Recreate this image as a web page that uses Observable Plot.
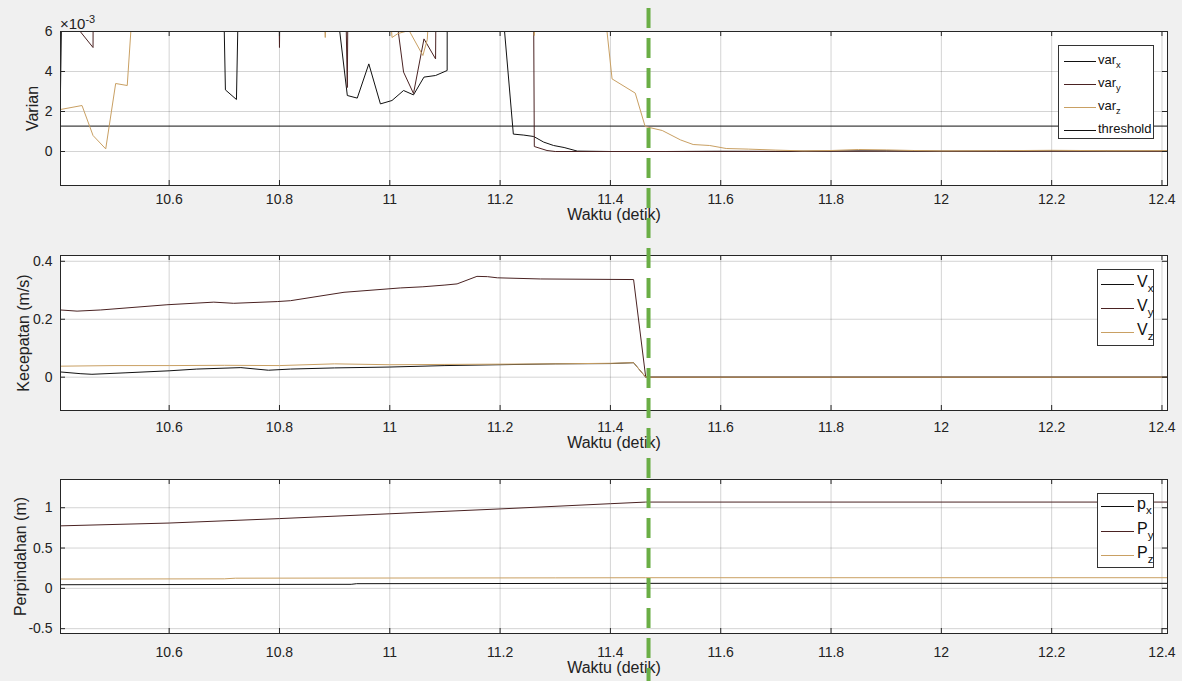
<!DOCTYPE html>
<html><head><meta charset="utf-8">
<script src="https://cdn.jsdelivr.net/npm/d3@7"></script>
<script src="https://cdn.jsdelivr.net/npm/@observablehq/plot@0.6"></script>
<style>
body{margin:0;background:#f0f0f0;font-family:"Liberation Sans",Arial,sans-serif;}
#fig{position:relative;width:1182px;height:681px;overflow:hidden;background:#f0f0f0;}
.panel{position:absolute;left:0;}
.legend{position:absolute;background:#fff;border:1px solid #333;box-sizing:border-box;}
.lline{position:absolute;height:0;border-top:1px solid #000;}
.ltext{position:absolute;white-space:nowrap;color:#111;line-height:1;font-family:"Liberation Sans",Arial,sans-serif;}
.ltext sub{font-size:0.72em;vertical-align:-0.45em;line-height:0;}
.expo{position:absolute;left:60px;top:14px;font-size:15px;color:#222;font-family:"Liberation Sans",Arial,sans-serif;line-height:1;}
.expo sup{font-size:11px;vertical-align:6px;}
</style></head>
<body><div id="fig"></div>
<script>
// ---------- data ----------
const xTicks = [10.6, 10.8, 11, 11.2, 11.4, 11.6, 11.8, 12, 12.2, 12.4];
const xDomain = [10.403, 12.41];
const markerTime = 11.47;
const xLabel = "Waktu (detik)";

// Variance (units of 1e-3); values above 6 leave the visible window
const varX = [[10.403,3.05],[10.412,20],[10.69,20],[10.702,3.08],[10.722,2.6],[10.734,20],
  [10.893,20],[10.905,7.0],[10.923,2.8],[10.941,2.67],[10.962,4.38],[10.983,2.38],[11.004,2.55],
  [11.025,3.05],[11.043,2.83],[11.062,3.72],[11.083,3.8],[11.104,4.05],[11.105,30],[11.19,30],
  [11.205,7.0],[11.224,0.87],[11.243,0.82],[11.261,0.75],[11.279,0.47],[11.297,0.3],[11.316,0.2],
  [11.34,0.02],[11.4,0.0],[11.5,0.0],[11.6,0.01],[11.7,0.0],[11.8,0.02],[11.9,0.03],[12.0,0.01],
  [12.1,0.02],[12.2,0.03],[12.3,0.02],[12.41,0.02]];
const varY = [[10.403,12],[10.433,6.2],[10.462,5.2],[10.465,30],[10.79,30],[10.8,5.2],[10.81,30],
  [10.905,30],[10.923,3.2],[10.93,30],[10.99,30],[11.004,8.4],[11.025,3.97],[11.043,2.9],
  [11.062,5.63],[11.083,4.63],[11.09,30],[11.255,40],[11.262,0.25],[11.285,0.05],[11.3,0.0],
  [11.5,0.0],[11.7,0.01],[11.9,0.02],[12.1,0.01],[12.3,0.02],[12.41,0.01]];
const varZ = [[10.403,2.1],[10.442,2.3],[10.462,0.8],[10.485,0.13],[10.503,3.4],[10.524,3.3],
  [10.545,12],[10.87,12],[10.883,5.7],[10.895,12],[10.99,12],[11.004,5.7],[11.015,5.9],
  [11.035,6.05],[11.06,4.8],[11.068,5.6],[11.08,12],[11.25,12],[11.262,5.8],[11.272,12],
  [11.37,12],[11.383,8.8],[11.403,3.63],[11.445,2.92],[11.463,1.25],[11.494,1.05],[11.527,0.58],
  [11.55,0.35],[11.58,0.3],[11.61,0.15],[11.65,0.12],[11.7,0.07],[11.75,0.03],[11.8,0.05],
  [11.85,0.1],[11.9,0.08],[11.95,0.05],[12.0,0.03],[12.1,0.04],[12.2,0.06],[12.3,0.04],[12.41,0.04]];
const threshold = 1.27;

// Velocity (m/s)
const vX = [[10.403,0.018],[10.44,0.012],[10.46,0.01],[10.52,0.015],[10.6,0.022],[10.65,0.028],
  [10.73,0.033],[10.78,0.024],[10.82,0.028],[10.9,0.032],[11.0,0.035],[11.1,0.04],[11.2,0.043],
  [11.3,0.046],[11.4,0.047],[11.442,0.05],[11.464,0.0],[12.41,0.0]];
const vY = [[10.403,0.232],[10.433,0.228],[10.476,0.232],[10.596,0.25],[10.681,0.259],[10.717,0.255],
  [10.796,0.261],[10.82,0.264],[10.917,0.293],[11.019,0.308],[11.06,0.312],[11.1,0.318],
  [11.122,0.322],[11.158,0.348],[11.177,0.347],[11.195,0.343],[11.273,0.339],[11.442,0.337],
  [11.464,0.0],[12.41,0.0]];
const vZ = [[10.403,0.038],[10.5,0.04],[10.6,0.04],[10.7,0.041],[10.8,0.04],[10.9,0.046],
  [11.0,0.043],[11.1,0.044],[11.2,0.045],[11.3,0.046],[11.4,0.048],[11.442,0.05],[11.464,0.0],[12.41,0.0]];

// Displacement (m)
const pX = [[10.403,0.045],[10.93,0.05],[10.94,0.058],[11.464,0.062],[12.41,0.062]];
const pY = [[10.403,0.775],[10.6,0.81],[10.8,0.865],[11.0,0.925],[11.2,0.985],[11.4,1.05],[11.464,1.07],[12.41,1.07]];
const pZ = [[10.403,0.115],[10.7,0.118],[10.72,0.126],[11.0,0.128],[11.3,0.13],[11.464,0.132],[12.41,0.132]];

const colX = "#111111", colY = "#4a2222", colZ = "#c9a063";

// ---------- drawing ----------
const fig = document.getElementById("fig");
const fmt = d => String(d);
const FONT = "'Liberation Sans', Arial, sans-serif";

function panel(o) {
  const W = 1182, mL = 60, mR = 15;
  const plotH = o.height - o.mt - o.mb;
  const plotW = W - mL - mR;
  const marks = [
    Plot.frame({fill: "white", stroke: null}),
    Plot.gridX(xTicks, {stroke: "#262626", strokeOpacity: 0.2}),
    Plot.gridY(o.yTicks, {stroke: "#262626", strokeOpacity: 0.2}),
    ...(o.extra || []),
    ...o.lines.map(([data, color]) => Plot.line(data, {x: d => d[0], y: d => d[1], stroke: color, strokeWidth: 1, clip: true})),
    Plot.tickX(xTicks, {x: d => d, insetTop: plotH - 5, stroke: "#262626"}),
    Plot.tickX(xTicks, {x: d => d, insetBottom: plotH - 5, stroke: "#262626"}),
    Plot.tickY(o.yTicks, {y: d => d, insetRight: plotW - 5, stroke: "#262626"}),
    Plot.tickY(o.yTicks, {y: d => d, insetLeft: plotW - 5, stroke: "#262626"}),
    Plot.axisX(xTicks, {anchor: "bottom", tickSize: 0, tickPadding: o.tickPad, tickFormat: fmt, label: null, fontSize: 14, fill: "#222"}),
    Plot.axisY(o.yTicks, {anchor: "left", tickSize: 0, tickPadding: 8, tickFormat: fmt, label: null, fontSize: 14, fill: "#222"}),
    Plot.text([xLabel], {frameAnchor: "bottom", lineAnchor: "middle", textAnchor: "middle", dy: o.labelDy, fontSize: 16, fill: "#222"}),
    Plot.text([o.ylabel], {frameAnchor: "left", textAnchor: "middle", lineAnchor: "middle", rotate: -90, dx: o.ylabelDx, fontSize: 16, fill: "#222"}),
    Plot.frame({stroke: "#262626", strokeWidth: 1})
  ];
  const p = Plot.plot({
    width: W, height: o.height,
    marginLeft: mL, marginRight: mR, marginTop: o.mt, marginBottom: o.mb,
    style: {background: "transparent", fontFamily: FONT, fontSize: "14px", overflow: "visible"},
    x: {domain: xDomain},
    y: {domain: o.yDomain},
    marks
  });
  const wrap = document.createElement("div");
  wrap.className = "panel";
  wrap.style.top = o.top + "px";
  wrap.appendChild(p);
  fig.appendChild(wrap);
  return p;
}

const p1 = panel({top: 0, height: 228, mt: 31, mb: 43, yDomain: [-1.7, 6], yTicks: [0, 2, 4, 6],
  lines: [[varX, colX], [varY, colY], [varZ, colZ]],
  extra: [Plot.ruleY([threshold], {stroke: "#111", strokeWidth: 1})],
  ylabel: "Varian", ylabelDx: -28, tickPad: 9, labelDy: 29});
const p2 = panel({top: 228, height: 227, mt: 27, mb: 45, yDomain: [-0.115, 0.42], yTicks: [0, 0.2, 0.4],
  lines: [[vX, colX], [vY, colY], [vZ, colZ]],
  ylabel: "Kecepatan (m/s)", ylabelDx: -37, tickPad: 12, labelDy: 32});
const p3 = panel({top: 455, height: 226, mt: 24, mb: 48, yDomain: [-0.56, 1.35], yTicks: [-0.5, 0, 0.5, 1],
  lines: [[pX, colX], [pY, colY], [pZ, colZ]],
  ylabel: "Perpindahan (m)", ylabelDx: -40, tickPad: 14, labelDy: 34});

// exponent label
const ex = document.createElement("div");
ex.className = "expo";
ex.innerHTML = "×10<sup>-3</sup>";
fig.appendChild(ex);

// legends
function legend(box, entries, o) {
  const d = document.createElement("div");
  d.className = "legend";
  Object.assign(d.style, {left: box[0] + "px", top: box[1] + "px", width: box[2] + "px", height: box[3] + "px"});
  entries.forEach(([txt, sub, color], i) => {
    const y = o.rows[i];
    const l = document.createElement("div");
    l.className = "lline";
    Object.assign(l.style, {left: o.l1 + "px", width: (o.l2 - o.l1) + "px", top: y + "px", borderTopColor: color});
    d.appendChild(l);
    const t = document.createElement("div");
    t.className = "ltext";
    Object.assign(t.style, {left: o.tx + "px", top: (y - o.fs * 0.6) + "px", fontSize: o.fs + "px"});
    t.innerHTML = txt + (sub ? "<sub>" + sub + "</sub>" : "");
    d.appendChild(t);
  });
  fig.appendChild(d);
}
legend([1058, 45, 96, 94], [["var", "x", colX], ["var", "y", colY], ["var", "z", colZ], ["threshold", "", colX]],
  {rows: [15, 38, 61, 84], l1: 5, l2: 37, tx: 39, fs: 13});
legend([1097, 269, 57, 77], [["V", "x", colX], ["V", "y", colY], ["V", "z", colZ]],
  {rows: [14, 38, 62], l1: 3, l2: 36, tx: 39, fs: 16});
legend([1097, 493, 57, 75], [["p", "x", colX], ["P", "y", colY], ["P", "z", colZ]],
  {rows: [12, 37, 61], l1: 3, l2: 36, tx: 39, fs: 16});

// green dashed marker across all panels
const xm = p1.scale("x").apply(markerTime);
const ns = "http://www.w3.org/2000/svg";
const ov = document.createElementNS(ns, "svg");
ov.setAttribute("width", 1182); ov.setAttribute("height", 681);
ov.style.position = "absolute"; ov.style.left = "0"; ov.style.top = "0"; ov.style.pointerEvents = "none";
const ln = document.createElementNS(ns, "line");
ln.setAttribute("x1", xm); ln.setAttribute("x2", xm);
ln.setAttribute("y1", 8); ln.setAttribute("y2", 681);
ln.setAttribute("stroke", "#6aae45"); ln.setAttribute("stroke-width", 4);
ln.setAttribute("stroke-dasharray", "20 10");
ov.appendChild(ln);
fig.appendChild(ov);
</script>
</body></html>
